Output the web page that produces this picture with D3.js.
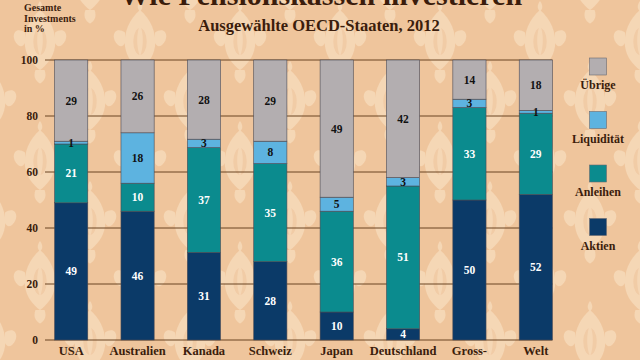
<!DOCTYPE html>
<html><head><meta charset="utf-8">
<script src="https://cdn.jsdelivr.net/npm/d3@7"></script>
<style>html,body{margin:0;padding:0;background:#efc59c;}svg{display:block;}</style>
</head><body>
<svg id="c" width="640" height="360"></svg>
<script>
const countries = ["USA","Australien","Kanada","Schweiz","Japan","Deutschland","Gross-|britannien","Welt"];
const seriesNames = ["Aktien","Anleihen","Liquidität","Übrige"];
const aktien     = [49,46,31,28,10,4,50,52];
const anleihen   = [21,10,37,35,36,51,33,29];
const liquiditaet= [1,18,3,8,5,3,3,1];
const uebrige    = [29,26,28,29,49,42,14,18];
const yTicks = [0,20,40,60,80,100];
const colors = ["#0b3a68","#0b8b8e","#5db3e0","#b3aeb0"];
const textColors = ["#fff","#fff","#111","#111"];

const rows = countries.map((c,i)=>({country:c, "Aktien":aktien[i], "Anleihen":anleihen[i], "Liquidität":liquiditaet[i], "Übrige":uebrige[i]}));

const svg = d3.select("#c");
const font = "'Liberation Serif','DejaVu Serif',serif";
const brown = "#3b1d0c";

// damask-like background pattern
const defs = svg.append("defs");
const pat = defs.append("pattern").attr("id","dam").attr("patternUnits","userSpaceOnUse")
  .attr("width",100).attr("height",120).attr("x",-10).attr("y",-20);
function motif(g, cx, cy, s){
  const m = g.append("g").attr("transform",`translate(${cx},${cy}) scale(${s})`).attr("fill","#f7dcbc").attr("opacity",0.8);
  m.append("path").attr("d","M0,-40 C14,-28 22,-10 20,8 C18,24 8,34 0,40 C-8,34 -18,24 -20,8 C-22,-10 -14,-28 0,-40Z");
  m.append("path").attr("d","M0,-52 C4,-46 4,-42 0,-38 C-4,-42 -4,-46 0,-52Z");
  m.append("path").attr("d","M-20,-10 C-34,-20 -40,-4 -30,6 C-26,10 -22,8 -20,4Z");
  m.append("path").attr("d","M20,-10 C34,-20 40,-4 30,6 C26,10 22,8 20,4Z");
  m.append("path").attr("d","M-6,40 C-10,50 -4,56 0,58 C4,56 10,50 6,40Z");
  m.append("ellipse").attr("cx",0).attr("cy",2).attr("rx",9).attr("ry",18).attr("fill","#efc59c").attr("opacity",0.6);
  m.append("path").attr("d","M0,-20 C5,-10 5,10 0,22 C-5,10 -5,-10 0,-20Z");
}
const pg = pat.append("g");
motif(pg, 0, 0, 0.75); motif(pg, 100, 0, 0.75); motif(pg, 0, 120, 0.75); motif(pg, 100, 120, 0.75);
motif(pg, 50, 60, 0.75);
svg.append("rect").attr("width",640).attr("height",360).attr("fill","#efc59c");
svg.append("rect").attr("width",640).attr("height",360).attr("fill","url(#dam)");

const x = d3.scaleBand().domain(countries).range([38,569]).paddingInner(0.5).paddingOuter(0.25);
const y = d3.scaleLinear().domain([0,100]).range([340,60]);

// grid
const gx0 = 45, gx1 = x(countries[countries.length-1]) + x.bandwidth();
svg.append("g").selectAll("line").data(yTicks).join("line")
  .attr("x1",gx0).attr("x2",gx1).attr("y1",d=>y(d)).attr("y2",d=>y(d))
  .attr("stroke","#6a4423").attr("stroke-width",1);

// y tick labels via axis
const yAxis = svg.append("g").attr("transform","translate(45,0)")
  .call(d3.axisLeft(y).tickValues(yTicks).tickSize(0).tickPadding(7));
yAxis.select(".domain").remove();
yAxis.selectAll("text").attr("font-family",font).attr("font-weight","bold").attr("font-size",11.5).attr("fill",brown);

const stack = d3.stack().keys(seriesNames).offset(d3.stackOffsetExpand);
const series = stack(rows);

const gs = svg.append("g").selectAll("g").data(series).join("g")
  .attr("fill",(d,i)=>colors[i]);
gs.selectAll("rect").data(d=>d).join("rect")
  .attr("x",d=>x(d.data.country)).attr("width",x.bandwidth())
  .attr("y",d=>y(d[1]*100)).attr("height",d=>y(d[0]*100)-y(d[1]*100))
  .attr("stroke","#4a4a55").attr("stroke-width",0.6);

// value labels
series.forEach((s,si)=>{
  svg.append("g").selectAll("text").data(s).join("text")
    .attr("x",d=>x(d.data.country)+x.bandwidth()/2)
    .attr("y",d=>(y(d[0]*100)+y(d[1]*100))/2)
    .attr("dy","0.35em").attr("text-anchor","middle")
    .attr("font-family",font).attr("font-weight","bold").attr("font-size",11.5)
    .attr("fill",textColors[si])
    .text(d=>d.data[s.key]);
});

// x labels
const xl = svg.append("g").selectAll("text").data(countries).join("text")
  .attr("x",d=>x(d)+x.bandwidth()/2).attr("y",355).attr("text-anchor","middle")
  .attr("font-family",font).attr("font-weight","bold").attr("font-size",12.5).attr("fill",brown);
xl.each(function(d){
  const parts = d.split("|");
  const t = d3.select(this);
  parts.forEach((p,i)=>t.append("tspan").attr("x",+t.attr("x")).attr("dy",i?14:0).text(p));
});

// legend
const legendOrder = ["Übrige","Liquidität","Anleihen","Aktien"];
const lg = svg.append("g").selectAll("g").data(legendOrder).join("g")
  .attr("transform",(d,i)=>`translate(598,${58+i*53.5})`);
lg.append("rect").attr("x",-8.5).attr("y",0).attr("width",17).attr("height",17)
  .attr("fill",d=>colors[seriesNames.indexOf(d)]).attr("stroke","#6a6a70").attr("stroke-width",0.6);
lg.append("text").attr("y",31).attr("text-anchor","middle")
  .attr("font-family",font).attr("font-weight","bold").attr("font-size",12).attr("fill",brown).text(d=>d);

// titles
svg.append("text").attr("x",321).attr("y",5).attr("text-anchor","middle")
  .attr("font-family",font).attr("font-weight","bold").attr("font-size",30).attr("fill",brown)
  .text("Wie Pensionskassen investieren");
svg.append("text").attr("x",319).attr("y",31).attr("text-anchor","middle")
  .attr("font-family",font).attr("font-weight","bold").attr("font-size",16.5).attr("fill",brown)
  .text("Ausgewählte OECD-Staaten, 2012");
const yt = svg.append("text").attr("x",24).attr("y",11)
  .attr("font-family",font).attr("font-weight","bold").attr("font-size",10).attr("fill",brown);
["Gesamte","Investments","in %"].forEach((t,i)=>yt.append("tspan").attr("x",24).attr("dy",i?10.5:0).text(t));
</script>
</body></html>
